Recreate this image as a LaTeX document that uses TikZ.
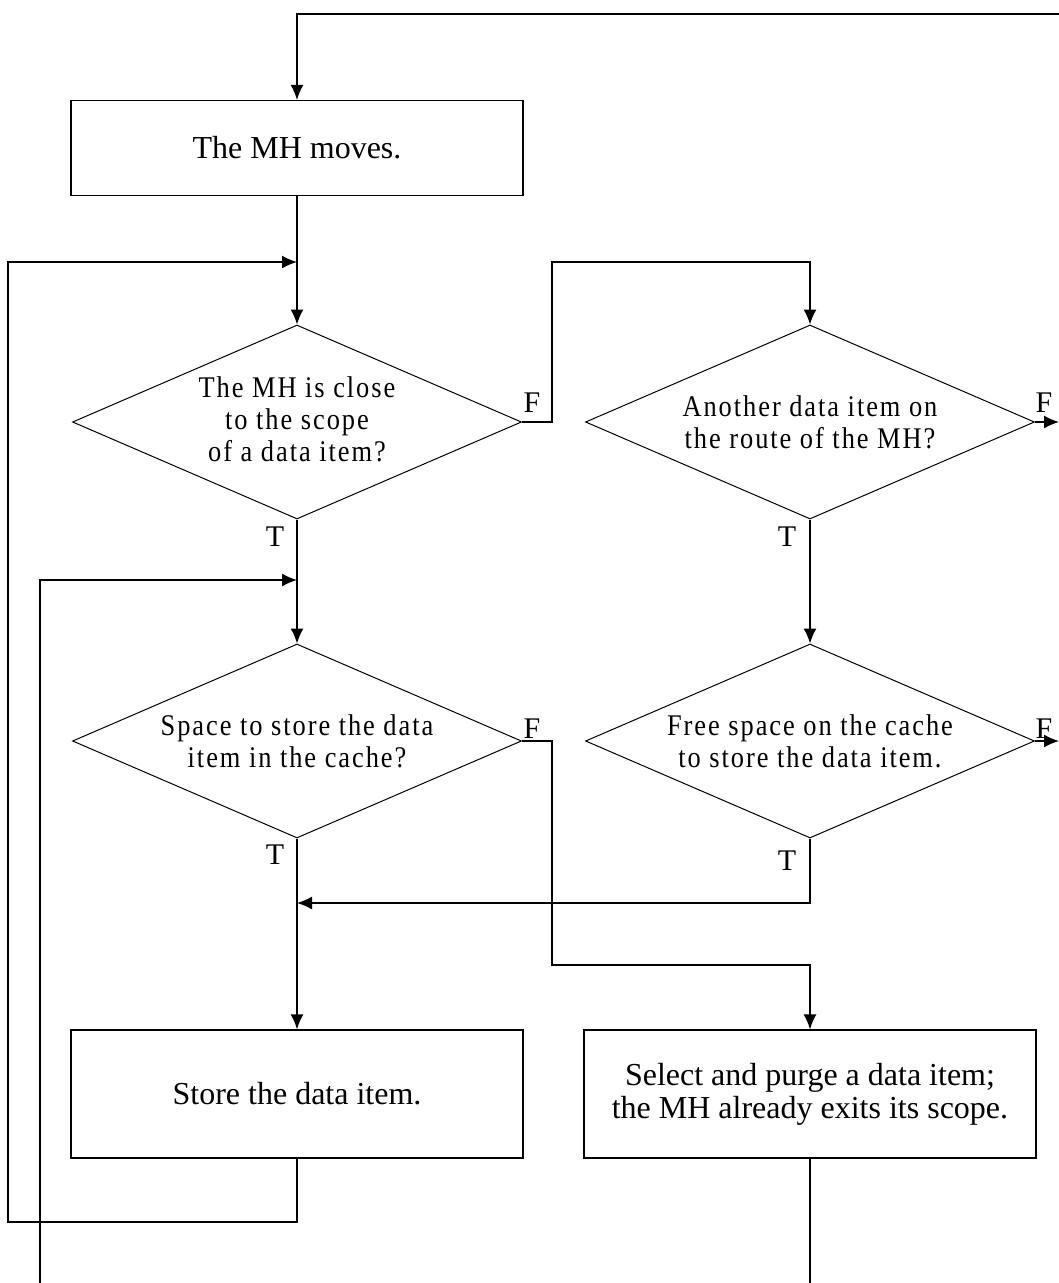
\documentclass[tikz,border=0pt]{standalone}
\usepackage{fontspec}
\setmainfont{Liberation Serif}
\newfontfamily\dfont[LetterSpace=6.5,FakeStretch=0.88]{Liberation Serif}
\usetikzlibrary{arrows.meta,shapes.geometric}
\begin{document}
\begin{tikzpicture}[x=1pt,y=-1pt,
  line width=1.5pt,
  arr/.style={-{Latex[length=15pt,width=13pt]}},
  procbox/.style={draw,rectangle,line width=1.3pt,minimum width=452pt,minimum height=95pt,inner sep=0pt,
     align=center,font=\fontsize{32}{33}\selectfont},
  decbox/.style={draw,diamond,line width=1pt,minimum width=449pt,minimum height=194pt,inner sep=0pt},
  dectext/.style={align=center,inner sep=0pt,font=\dfont\fontsize{30}{32}\selectfont},
  lbl/.style={inner sep=0pt,anchor=base,font=\fontsize{30}{30}\selectfont}]
\useasboundingbox (0,0) rectangle (1059,1283);
\fill[white] (0,0) rectangle (1059,1283);

% process boxes
\node[procbox] (b1) at (297,148) {The MH moves.};
\node[procbox,minimum height=128pt] (b3) at (297,1094) {Store the data item.};
\node[procbox,minimum height=128pt] (b4) at (810,1094) {Select and purge a data item;\\the MH already exits its scope.};

% decisions
\node[decbox] (d1) at (297,422) {};
\node[dectext] (d1t) at ([yshift=3pt]d1.center) {The MH is close\\to the scope\\of a data item?};
\node[decbox] (d2) at (810,422) {};
\node[dectext] (d2t) at (d2.center) {Another data item on\\the route of the MH?};
\node[decbox] (d3) at (297,741) {};
\node[dectext] (d3t) at (d3.center) {Space to store the data\\item in the cache?};
\node[decbox] (d4) at (810,741) {};
\node[dectext] (d4t) at (d4.center) {Free space on the cache\\to store the data item.};

% labels
\node[lbl] (f1) at (532,412) {F};
\node[lbl] (f2) at (1044,412) {F};
\node[lbl] (f3) at (532,738) {F};
\node[lbl] (f4) at (1044,738) {F};
\node[lbl] (t1) at (275,546) {T};
\node[lbl] (t2) at (787,546) {T};
\node[lbl] (t3) at (275,864) {T};
\node[lbl] (t4) at (787,870) {T};

% coordinates
\coordinate (top) at (1059,14);
\coordinate (j1) at (297,262);
\coordinate (l1a) at (297,1222);
\coordinate (l1b) at (8,1222);
\coordinate (l1c) at (8,262);
\coordinate (j2) at (297,580);
\coordinate (l2a) at (40,1283);
\coordinate (l2b) at (40,580);
\coordinate (c1) at (552,262);
\coordinate (c2) at (552,965);
\coordinate (o1) at (1059,422);
\coordinate (o2) at (1059,741);
\coordinate (j3) at (297,903);
\coordinate (bot) at (810,1283);

% connectors
\draw[arr] (top) -| (b1.north);
\draw[arr] (b1.south) -- (d1.north);
\draw[arr] (b3.south) -- (l1a) -- (l1b) -- (l1c) -- (j1);
\draw[arr] (l2a) -- (l2b) -- (j2);
\draw[arr] (d1.east) -| (c1) -| (d2.north);
\draw[arr] (d2.east) -- (o1);
\draw[arr] (d1.south) -- (d3.north);
\draw[arr] (d2.south) -- (d4.north);
\draw[arr] (d4.east) -- (o2);
\draw[arr] (d3.east) -| (c2) -| (b4.north);
\draw[arr] (d4.south) |- (j3);
\draw[arr] (d3.south) -- (b3.north);
\draw (b4.south) -- (bot);
\end{tikzpicture}
\end{document}
